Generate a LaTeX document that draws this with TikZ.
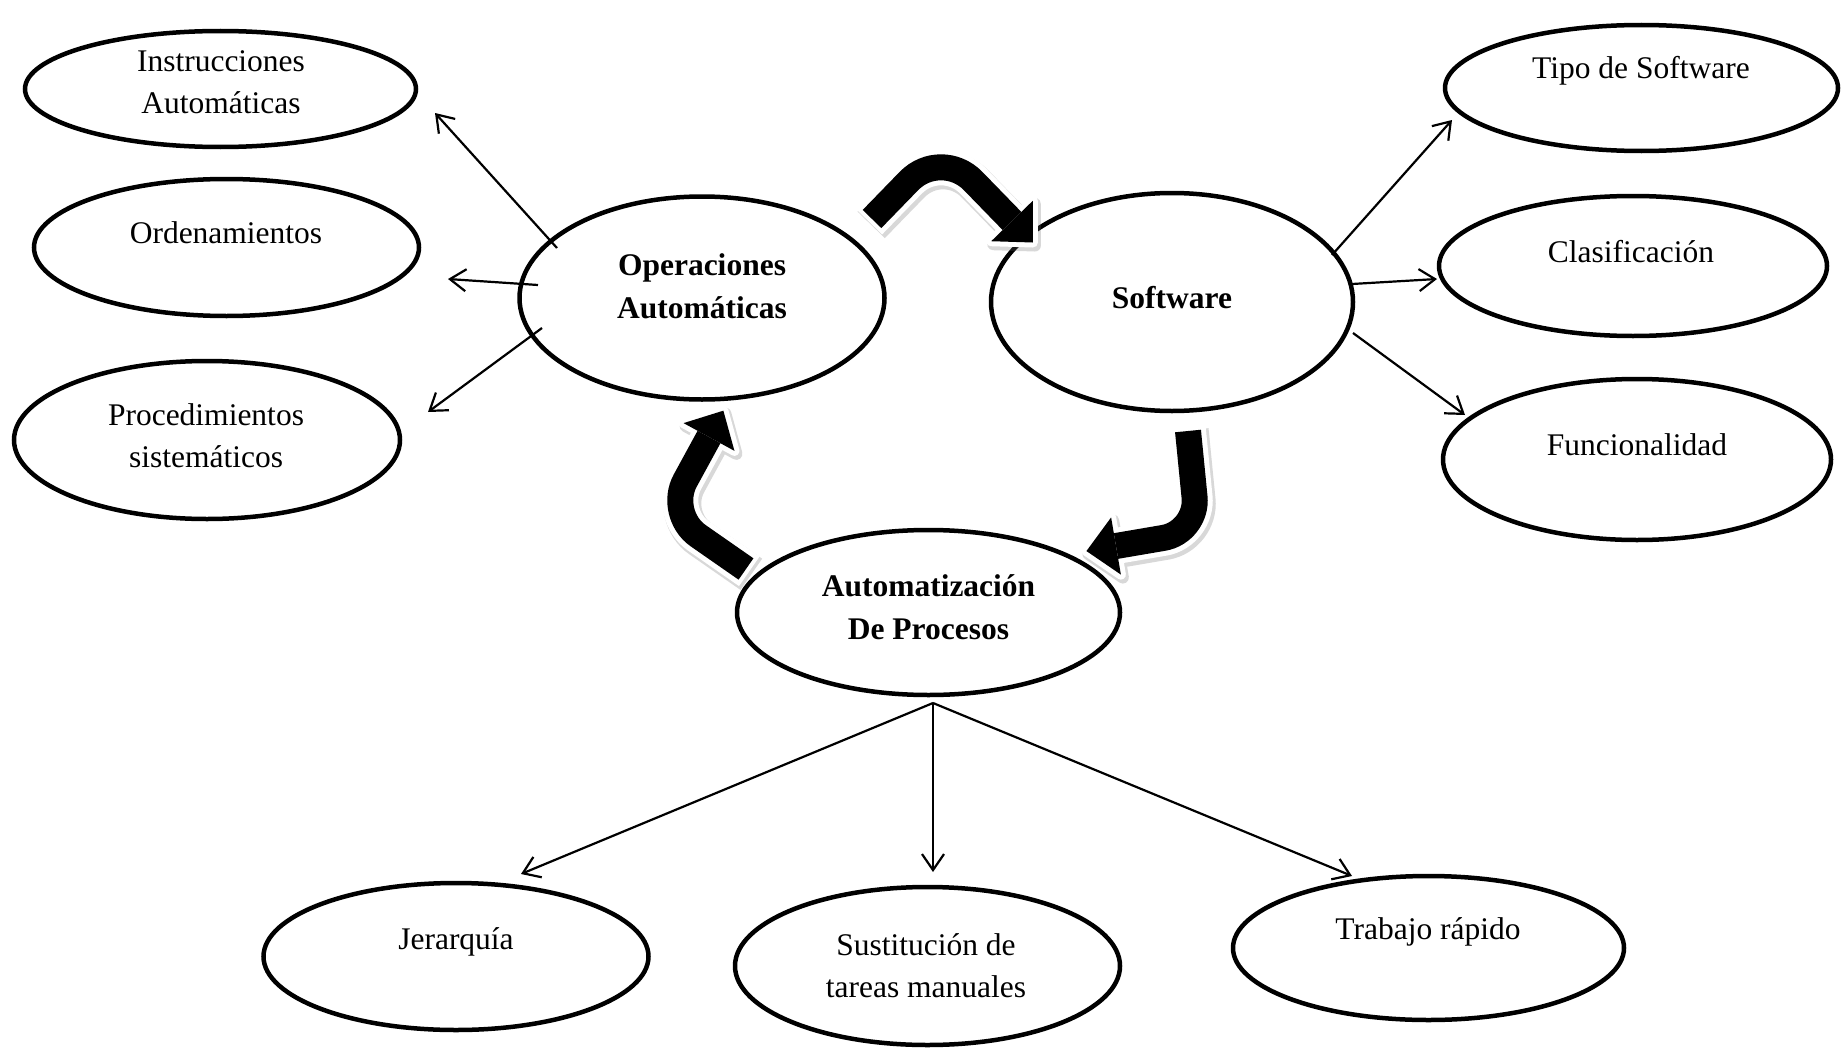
\documentclass[tikz,border=0pt]{standalone}
\usepackage{fontspec}
\setmainfont{Liberation Serif}
\usetikzlibrary{shapes.geometric,arrows.meta,calc}

\tikzset{
  ell/.style={draw, line width=4.5pt, ellipse, inner sep=0pt},
  lbl/.style={align=center, font=\fontsize{31.5}{42}\selectfont, inner sep=0pt},
  blbl/.style={align=center, font=\fontsize{31.5}{43}\selectfont\bfseries, inner sep=0pt},
  conn/.style={line width=2.2pt, -{Straight Barb[length=16pt,width=22pt]}},
}

% #1 tail, #2 corner, #3 base (coordinate names), #4 corner radius
\newcommand\fatarrow[4]{%
  \coordinate (#3-tip) at ($(#3)!-30pt!(#2)$);
  \coordinate (#3-l) at ($(#3)!29pt!90:(#2)$);
  \coordinate (#3-r) at ($(#3)!29pt!-90:(#2)$);
  \coordinate (#1-x) at ($(#1)!-4pt!(#2)$);
  \begin{scope}[transparency group, opacity=.25]
    \draw[black!60, line width=38pt, rounded corners=#4]
      ($(#1-x)+(2,3)$) -- ($(#2)+(2,3)$) -- ($(#3)+(2,3)$);
    \filldraw[black!60, line width=12pt, line join=round]
      ($(#3-tip)+(2,3)$) -- ($(#3-l)+(2,3)$) -- ($(#3-r)+(2,3)$) -- cycle;
  \end{scope}
  \draw[white, line width=36pt, rounded corners=#4] (#1-x) -- (#2) -- (#3);
  \filldraw[white, line width=10pt, line join=round] (#3-tip) -- (#3-l) -- (#3-r) -- cycle;
  \draw[black, line width=26pt, rounded corners=#4] (#1) -- (#2) -- (#3);
  \fill[black] (#3-tip) -- (#3-l) -- (#3-r) -- cycle;
}

\begin{document}
\begin{tikzpicture}[x=1pt,y=-1pt]
\useasboundingbox (0,0) rectangle (1847,1049);
\fill[white] (0,0) rectangle (1847,1049);

% ellipses
\node[ell, minimum width=391pt, minimum height=116pt] (instr) at (220.5,89) {};
\node[ell, minimum width=385pt, minimum height=137pt] (orden) at (226.5,247.5) {};
\node[ell, minimum width=386pt, minimum height=158pt] (proc) at (207,440) {};
\node[ell, minimum width=365pt, minimum height=203pt] (oper) at (702,298) {};
\node[ell, minimum width=362pt, minimum height=218pt] (soft) at (1172,302) {};
\node[ell, minimum width=393pt, minimum height=126pt] (tipo) at (1641.5,88) {};
\node[ell, minimum width=388pt, minimum height=140pt] (clas) at (1633,266) {};
\node[ell, minimum width=388pt, minimum height=161pt] (func) at (1637,459.5) {};
\node[ell, minimum width=383pt, minimum height=165pt] (auto) at (928.5,612.5) {};
\node[ell, minimum width=385pt, minimum height=147pt] (jer) at (456,956.5) {};
\node[ell, minimum width=385pt, minimum height=158pt] (sust) at (927.5,966) {};
\node[ell, minimum width=391pt, minimum height=144pt] (trab) at (1428.5,948) {};

% texts
\node[lbl] (instr-t) at (221,82) {Instrucciones\\Automáticas};
\node[lbl] (orden-t) at (226,233) {Ordenamientos};
\node[lbl] (proc-t) at (206,436) {Procedimientos\\sistemáticos};
\node[blbl] (oper-t) at (702,286) {Operaciones\\Automáticas};
\node[blbl] (soft-t) at (1172,298) {Software};
\node[lbl] (tipo-t) at (1641,71) {Tipo de Software};
\node[lbl] (clas-t) at (1631,252) {Clasificación};
\node[lbl] (func-t) at (1637,445) {Funcionalidad};
\node[blbl] (auto-t) at (928.5,607) {Automatización\\De Procesos};
\node[lbl] (jer-t) at (456,942) {Jerarquía};
\node[lbl] (sust-t) at (926,966) {Sustitución de\\tareas manuales};
\node[lbl] (trab-t) at (1428,932) {Trabajo rápido};

% thin connectors
\coordinate (o1) at (557,248);  \coordinate (o1e) at (435,113);
\coordinate (o2) at (538,285);  \coordinate (o2e) at (448,279);
\coordinate (o3) at (542,328);  \coordinate (o3e) at (428,412);
\coordinate (s1) at (1332,255); \coordinate (s1e) at (1452,120);
\coordinate (s2) at (1352,284); \coordinate (s2e) at (1437,279);
\coordinate (s3) at (1353,333); \coordinate (s3e) at (1465,415);
\coordinate (a0) at (933,703);
\coordinate (a1e) at (521,874);
\coordinate (a2e) at (933,872);
\coordinate (a3e) at (1352,876);

\draw[conn] (o1) -- (o1e);
\draw[conn] (o2) -- (o2e);
\draw[conn] (o3) -- (o3e);
\draw[conn] (s1) -- (s1e);
\draw[conn] (s2) -- (s2e);
\draw[conn] (s3) -- (s3e);
\draw[conn] (a0) -- (a1e);
\draw[conn] (a0) -- (a2e);
\draw[conn] (a0) -- (a3e);

% big curved arrows
\coordinate (A1t) at (872,219); \coordinate (A1c) at (941,148); \coordinate (A1b) at (1012,221);
\coordinate (A2t) at (1188,431); \coordinate (A2c) at (1198,532); \coordinate (A2b) at (1116,546);
\coordinate (A3t) at (746,569); \coordinate (A3c) at (667,514); \coordinate (A3b) at (709,437);
\fatarrow{A1t}{A1c}{A1b}{46pt}
\fatarrow{A2t}{A2c}{A2b}{35pt}
\fatarrow{A3t}{A3c}{A3b}{38pt}
\end{tikzpicture}
\end{document}
